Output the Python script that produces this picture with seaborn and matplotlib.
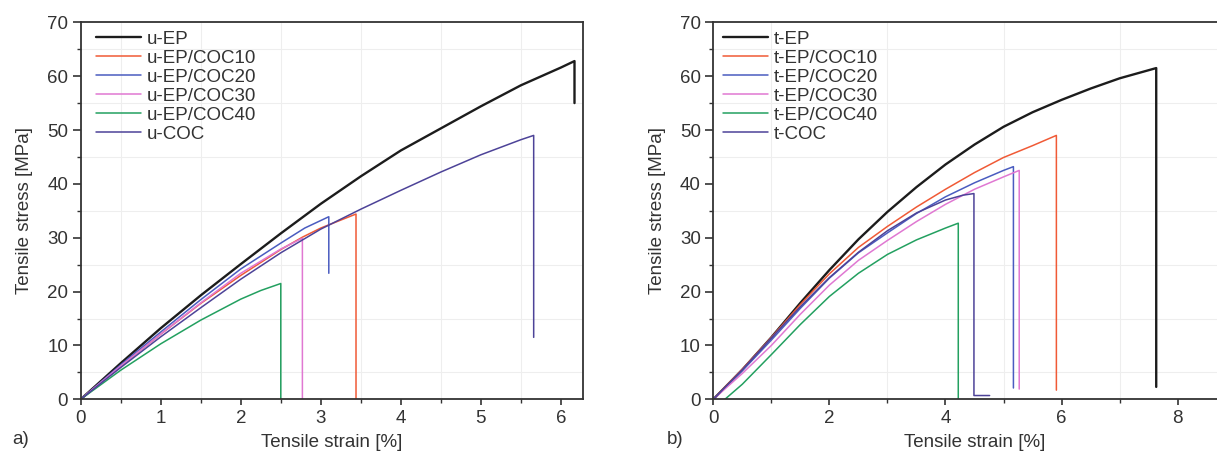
import matplotlib
matplotlib.use("Agg")
import matplotlib.pyplot as plt
import seaborn as sns
import pandas as pd
from matplotlib.ticker import MultipleLocator

# ---------------- data (panel a: untreated) ----------------
u_labels = ["u-EP", "u-EP/COC10", "u-EP/COC20", "u-EP/COC30", "u-EP/COC40", "u-COC"]
u_ep_x = [0, 0.5, 1, 1.5, 2, 2.5, 3, 3.5, 4, 4.5, 5, 5.5, 6, 6.17, 6.17]
u_ep_y = [0, 6.7, 13.2, 19.3, 25.1, 30.8, 36.3, 41.4, 46.2, 50.3, 54.4, 58.3, 61.6, 62.8, 55.0]
u_c10_x = [0, 0.5, 1, 1.5, 2, 2.5, 2.77, 3, 3.44, 3.44]
u_c10_y = [0, 6.2, 12.1, 17.8, 23.0, 27.8, 30.1, 31.8, 34.4, 0]
u_c20_x = [0, 0.5, 1, 1.5, 2, 2.5, 2.8, 3.1, 3.1]
u_c20_y = [0, 6.4, 12.5, 18.5, 24.2, 29.0, 31.8, 33.9, 23.4]
u_c30_x = [0, 0.5, 1, 1.5, 2, 2.5, 2.77, 2.77]
u_c30_y = [0, 6.2, 12.1, 17.9, 23.4, 27.9, 29.9, 0]
u_c40_x = [0, 0.5, 1, 1.5, 2, 2.25, 2.5, 2.5]
u_c40_y = [0, 5.4, 10.3, 14.7, 18.6, 20.2, 21.5, 0]
u_coc_x = [0, 0.5, 1, 1.5, 2, 2.5, 3, 3.5, 4, 4.5, 5, 5.5, 5.66, 5.66]
u_coc_y = [0, 5.9, 11.6, 17.0, 22.3, 27.2, 31.6, 35.3, 38.8, 42.2, 45.4, 48.2, 49.0, 11.5]

# ---------------- data (panel b: treated) ----------------
t_labels = ["t-EP", "t-EP/COC10", "t-EP/COC20", "t-EP/COC30", "t-EP/COC40", "t-COC"]
t_ep_x = [0, 0.5, 1, 1.5, 2, 2.5, 3, 3.5, 4, 4.5, 5, 5.5, 6, 6.5, 7, 7.63, 7.63]
t_ep_y = [0, 5.5, 11.5, 17.9, 24.0, 29.7, 34.8, 39.4, 43.6, 47.3, 50.6, 53.3, 55.6, 57.7, 59.6, 61.5, 2.3]
t_c10_x = [0, 0.5, 1, 1.5, 2, 2.5, 3, 3.5, 4, 4.5, 5, 5.5, 5.91, 5.91]
t_c10_y = [0, 5.6, 11.5, 17.6, 23.3, 28.2, 32.1, 35.7, 39.0, 42.1, 44.9, 47.1, 49.0, 1.7]
t_c20_x = [0, 0.5, 1, 1.5, 2, 2.5, 3, 3.5, 4, 4.5, 5, 5.17, 5.17]
t_c20_y = [0, 5.3, 11.0, 16.9, 22.5, 27.2, 30.9, 34.5, 37.6, 40.2, 42.5, 43.2, 2.1]
t_c30_x = [0, 0.5, 1, 1.5, 2, 2.5, 3, 3.5, 4, 4.5, 5, 5.27, 5.27]
t_c30_y = [0, 4.8, 10.0, 15.8, 21.2, 25.8, 29.5, 33.0, 36.2, 39.0, 41.3, 42.5, 1.9]
t_c40_x = [0.2, 0.5, 1, 1.5, 2, 2.5, 3, 3.5, 4, 4.22, 4.22]
t_c40_y = [0, 2.8, 8.3, 13.9, 19.1, 23.4, 26.9, 29.6, 31.8, 32.7, 0]
t_coc_x = [0, 0.5, 1, 1.5, 2, 2.5, 3, 3.5, 4, 4.3, 4.49, 4.49, 4.76]
t_coc_y = [0, 5.5, 11.4, 17.2, 22.6, 27.3, 31.3, 34.6, 37.0, 37.9, 38.2, 0.7, 0.7]

colors = ["#1c1c1c", "#f05a36", "#4a5cc0", "#e078d2", "#23a060", "#4d4398"]
widths = [1.7, 1.1, 1.1, 1.1, 1.1, 1.1]

u_series = [(u_ep_x, u_ep_y), (u_c10_x, u_c10_y), (u_c20_x, u_c20_y),
            (u_c30_x, u_c30_y), (u_c40_x, u_c40_y), (u_coc_x, u_coc_y)]
t_series = [(t_ep_x, t_ep_y), (t_c10_x, t_c10_y), (t_c20_x, t_c20_y),
            (t_c30_x, t_c30_y), (t_c40_x, t_c40_y), (t_coc_x, t_coc_y)]

sns.set_style("ticks")
plt.rcParams["font.family"] = ["Liberation Sans", "DejaVu Sans"]
txt = "#333333"
plt.rcParams.update({
    "axes.edgecolor": txt, "xtick.color": txt, "ytick.color": txt,
    "axes.labelcolor": txt, "text.color": txt, "axes.linewidth": 1.3,
})

W, H = 1217, 453
FS = 13.5
fig = plt.figure(figsize=(W / 100, H / 100), dpi=100)
axL = fig.add_axes([80.7 / W, (H - 399.3) / H, 502.6 / W, 377 / H])
axR = fig.add_axes([713.3 / W, (H - 399.3) / H, 9 * 58.05 / W, 377 / H])


def draw(ax, series, labels, xmax, xmaj, xmin, leg_x):
    for (xs, ys), lab, c, lw in zip(series, labels, colors, widths):
        df = pd.DataFrame({"strain": xs, "stress": ys})
        sns.lineplot(data=df, x="strain", y="stress", sort=False, estimator=None,
                     color=c, lw=lw, label=lab, ax=ax)
    ax.set_xlim(0, xmax)
    ax.set_ylim(0, 70)
    ax.xaxis.set_major_locator(MultipleLocator(xmaj))
    ax.xaxis.set_minor_locator(MultipleLocator(xmin))
    ax.yaxis.set_major_locator(MultipleLocator(10))
    ax.yaxis.set_minor_locator(MultipleLocator(5))
    ax.tick_params(axis="x", which="major", length=4, width=1.2, labelsize=FS, pad=4)
    ax.tick_params(axis="y", which="major", length=6, width=1.2, labelsize=FS, pad=3)
    ax.tick_params(which="minor", length=3, width=1.0)
    ax.grid(which="minor", color="#eeeeee", lw=0.8)
    ax.set_axisbelow(True)
    for s in ax.spines.values():
        s.set_visible(True)
        s.set_linewidth(1.3)
    ax.set_xlabel("Tensile strain [%]", fontsize=FS, labelpad=5)
    ax.set_ylabel("Tensile stress [MPa]", fontsize=FS, labelpad=10)
    ax.legend(loc="upper left", bbox_to_anchor=(leg_x, 0.978), frameon=False,
              fontsize=FS, handlelength=2.4, handletextpad=0.3,
              labelspacing=0.1, borderpad=0, borderaxespad=0)


draw(axL, u_series, u_labels, 6.28, 1, 0.5, 15 / 502.6)
draw(axR, t_series, t_labels, 9, 2, 1, 10 / 522.5)

fig.text(12 / W, 1 - 440 / H, "a)", fontsize=FS, va="center", ha="left")
fig.text(667 / W, 1 - 440 / H, "b)", fontsize=FS, va="center", ha="left")

fig.savefig("out.png", dpi=100)
